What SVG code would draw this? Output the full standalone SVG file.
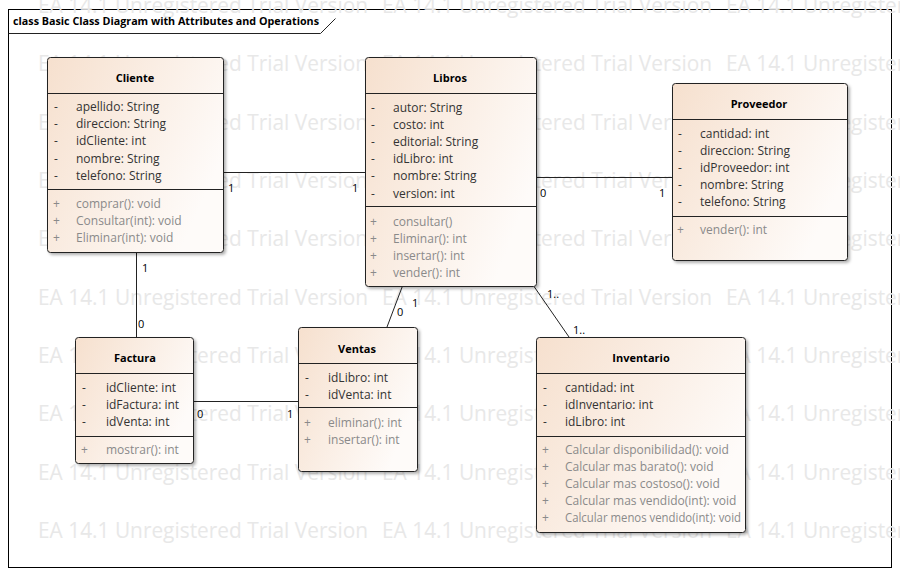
<svg xmlns="http://www.w3.org/2000/svg" width="900" height="575" viewBox="0 0 900 575">
<defs>
<linearGradient id="fill" x1="0" y1="0" x2="1" y2="0.5">
<stop offset="0" stop-color="#f6e0ce"/>
<stop offset="1" stop-color="#fefbf9"/>
</linearGradient>
<filter id="sh" x="-10%" y="-10%" width="120%" height="120%">
<feDropShadow dx="2" dy="2" stdDeviation="1.5" flood-color="#000" flood-opacity="0.3"/>
</filter>
<style>
.box{fill:url(#fill);stroke:#222;stroke-width:1;filter:url(#sh)}
.div{stroke:#222;stroke-width:1}
.nm{font-family:"Open Sans","Noto Sans",sans-serif;font-size:11px;font-weight:bold;fill:#000;text-anchor:middle}
.at{font-family:"Open Sans","Noto Sans",sans-serif;font-size:12px;fill:#333}
.op{font-family:"Open Sans","Noto Sans",sans-serif;font-size:12px;fill:#8a8a8a}
.ml{font-family:"Open Sans","Noto Sans",sans-serif;font-size:11px;fill:#000}
.wm{font-family:"Open Sans","Noto Sans",sans-serif;font-size:22px;fill:#e8e8e8}
.ln{stroke:#222;stroke-width:1;fill:none}
.ttl{font-family:"Open Sans","Noto Sans",sans-serif;font-size:11px;font-weight:bold;fill:#000}
</style>
</defs>
<rect x="0" y="0" width="900" height="575" fill="#fff"/>
<rect x="8.5" y="9.5" width="883" height="558" fill="#fff" stroke="#000" stroke-width="1"/>
<g id="watermark">
<text class="wm" x="38" y="13" textLength="330" lengthAdjust="spacingAndGlyphs">EA 14.1 Unregistered Trial Version</text>
<text class="wm" x="382" y="13" textLength="330" lengthAdjust="spacingAndGlyphs">EA 14.1 Unregistered Trial Version</text>
<text class="wm" x="726" y="13" textLength="330" lengthAdjust="spacingAndGlyphs">EA 14.1 Unregistered Trial Version</text>
<text class="wm" x="38" y="71" textLength="330" lengthAdjust="spacingAndGlyphs">EA 14.1 Unregistered Trial Version</text>
<text class="wm" x="382" y="71" textLength="330" lengthAdjust="spacingAndGlyphs">EA 14.1 Unregistered Trial Version</text>
<text class="wm" x="726" y="71" textLength="330" lengthAdjust="spacingAndGlyphs">EA 14.1 Unregistered Trial Version</text>
<text class="wm" x="38" y="130" textLength="330" lengthAdjust="spacingAndGlyphs">EA 14.1 Unregistered Trial Version</text>
<text class="wm" x="382" y="130" textLength="330" lengthAdjust="spacingAndGlyphs">EA 14.1 Unregistered Trial Version</text>
<text class="wm" x="726" y="130" textLength="330" lengthAdjust="spacingAndGlyphs">EA 14.1 Unregistered Trial Version</text>
<text class="wm" x="38" y="188" textLength="330" lengthAdjust="spacingAndGlyphs">EA 14.1 Unregistered Trial Version</text>
<text class="wm" x="382" y="188" textLength="330" lengthAdjust="spacingAndGlyphs">EA 14.1 Unregistered Trial Version</text>
<text class="wm" x="726" y="188" textLength="330" lengthAdjust="spacingAndGlyphs">EA 14.1 Unregistered Trial Version</text>
<text class="wm" x="38" y="246" textLength="330" lengthAdjust="spacingAndGlyphs">EA 14.1 Unregistered Trial Version</text>
<text class="wm" x="382" y="246" textLength="330" lengthAdjust="spacingAndGlyphs">EA 14.1 Unregistered Trial Version</text>
<text class="wm" x="726" y="246" textLength="330" lengthAdjust="spacingAndGlyphs">EA 14.1 Unregistered Trial Version</text>
<text class="wm" x="38" y="305" textLength="330" lengthAdjust="spacingAndGlyphs">EA 14.1 Unregistered Trial Version</text>
<text class="wm" x="382" y="305" textLength="330" lengthAdjust="spacingAndGlyphs">EA 14.1 Unregistered Trial Version</text>
<text class="wm" x="726" y="305" textLength="330" lengthAdjust="spacingAndGlyphs">EA 14.1 Unregistered Trial Version</text>
<text class="wm" x="38" y="363" textLength="330" lengthAdjust="spacingAndGlyphs">EA 14.1 Unregistered Trial Version</text>
<text class="wm" x="382" y="363" textLength="330" lengthAdjust="spacingAndGlyphs">EA 14.1 Unregistered Trial Version</text>
<text class="wm" x="726" y="363" textLength="330" lengthAdjust="spacingAndGlyphs">EA 14.1 Unregistered Trial Version</text>
<text class="wm" x="38" y="421" textLength="330" lengthAdjust="spacingAndGlyphs">EA 14.1 Unregistered Trial Version</text>
<text class="wm" x="382" y="421" textLength="330" lengthAdjust="spacingAndGlyphs">EA 14.1 Unregistered Trial Version</text>
<text class="wm" x="726" y="421" textLength="330" lengthAdjust="spacingAndGlyphs">EA 14.1 Unregistered Trial Version</text>
<text class="wm" x="38" y="480" textLength="330" lengthAdjust="spacingAndGlyphs">EA 14.1 Unregistered Trial Version</text>
<text class="wm" x="382" y="480" textLength="330" lengthAdjust="spacingAndGlyphs">EA 14.1 Unregistered Trial Version</text>
<text class="wm" x="726" y="480" textLength="330" lengthAdjust="spacingAndGlyphs">EA 14.1 Unregistered Trial Version</text>
<text class="wm" x="38" y="538" textLength="330" lengthAdjust="spacingAndGlyphs">EA 14.1 Unregistered Trial Version</text>
<text class="wm" x="382" y="538" textLength="330" lengthAdjust="spacingAndGlyphs">EA 14.1 Unregistered Trial Version</text>
<text class="wm" x="726" y="538" textLength="330" lengthAdjust="spacingAndGlyphs">EA 14.1 Unregistered Trial Version</text>
</g>
<g id="frame-title">
<path class="ln" d="M8.5 33.5 H320.5 L335.5 18.5"/>
<text class="ttl" x="13" y="25" textLength="306" lengthAdjust="spacingAndGlyphs">class Basic Class Diagram with Attributes and Operations</text>
</g>
<g id="connectors">
<line class="ln" x1="223" y1="172.5" x2="365" y2="172.5"/>
<line class="ln" x1="536" y1="177.5" x2="672" y2="177.5"/>
<line class="ln" x1="136.5" y1="252" x2="136.5" y2="337"/>
<line class="ln" x1="193" y1="401.5" x2="298" y2="401.5"/>
<line class="ln" x1="402.5" y1="286" x2="387" y2="327"/>
<line class="ln" x1="533" y1="285" x2="569" y2="337"/>
<text class="ml" x="228" y="192">1</text>
<text class="ml" x="352" y="192">1</text>
<text class="ml" x="540" y="197">0</text>
<text class="ml" x="659" y="197">1</text>
<text class="ml" x="142" y="272">1</text>
<text class="ml" x="138" y="328">0</text>
<text class="ml" x="197" y="418">0</text>
<text class="ml" x="287" y="418">1</text>
<text class="ml" x="397" y="316">0</text>
<text class="ml" x="412" y="307">1</text>
<text class="ml" x="547" y="298">1..</text>
<text class="ml" x="573" y="334">1..</text>
</g>
<g id="Cliente">
<rect class="box" x="47.5" y="57.5" width="176" height="195" rx="3"/>
<line class="div" x1="47.5" y1="93.5" x2="223.5" y2="93.5"/>
<line class="div" x1="47.5" y1="189.5" x2="223.5" y2="189.5"/>
<text class="nm" x="135" y="82">Cliente</text>
<text class="at" x="54" y="111">-</text><text class="at" x="76" y="111">apellido: String</text>
<text class="at" x="54" y="128.2">-</text><text class="at" x="76" y="128.2">direccion: String</text>
<text class="at" x="54" y="145.4">-</text><text class="at" x="76" y="145.4">idCliente: int</text>
<text class="at" x="54" y="162.6">-</text><text class="at" x="76" y="162.6">nombre: String</text>
<text class="at" x="54" y="179.8">-</text><text class="at" x="76" y="179.8">telefono: String</text>
<text class="op" x="53" y="208">+</text><text class="op" x="76" y="208">comprar(): void</text>
<text class="op" x="53" y="225">+</text><text class="op" x="76" y="225">Consultar(int): void</text>
<text class="op" x="53" y="242">+</text><text class="op" x="76" y="242">Eliminar(int): void</text>
</g>
<g id="Libros">
<rect class="box" x="365.5" y="57.5" width="171" height="229" rx="3"/>
<line class="div" x1="365.5" y1="93.5" x2="536.5" y2="93.5"/>
<line class="div" x1="365.5" y1="206.5" x2="536.5" y2="206.5"/>
<text class="nm" x="450" y="82">Libros</text>
<text class="at" x="371" y="111.5">-</text><text class="at" x="393" y="111.5">autor: String</text>
<text class="at" x="371" y="128.7">-</text><text class="at" x="393" y="128.7">costo: int</text>
<text class="at" x="371" y="145.9">-</text><text class="at" x="393" y="145.9">editorial: String</text>
<text class="at" x="371" y="163.1">-</text><text class="at" x="393" y="163.1">idLibro: int</text>
<text class="at" x="371" y="180.3">-</text><text class="at" x="393" y="180.3">nombre: String</text>
<text class="at" x="371" y="197.5">-</text><text class="at" x="393" y="197.5">version: int</text>
<text class="op" x="370" y="225.5">+</text><text class="op" x="393" y="225.5">consultar()</text>
<text class="op" x="370" y="242.7">+</text><text class="op" x="393" y="242.7">Eliminar(): int</text>
<text class="op" x="370" y="259.9">+</text><text class="op" x="393" y="259.9">insertar(): int</text>
<text class="op" x="370" y="277.1">+</text><text class="op" x="393" y="277.1">vender(): int</text>
</g>
<g id="Proveedor">
<rect class="box" x="672.5" y="83.5" width="175" height="177" rx="3"/>
<line class="div" x1="672.5" y1="119.5" x2="847.5" y2="119.5"/>
<line class="div" x1="672.5" y1="216.5" x2="847.5" y2="216.5"/>
<text class="nm" x="759" y="108">Proveedor</text>
<text class="at" x="678" y="137.5">-</text><text class="at" x="700" y="137.5">cantidad: int</text>
<text class="at" x="678" y="154.7">-</text><text class="at" x="700" y="154.7">direccion: String</text>
<text class="at" x="678" y="171.9">-</text><text class="at" x="700" y="171.9">idProveedor: int</text>
<text class="at" x="678" y="189.1">-</text><text class="at" x="700" y="189.1">nombre: String</text>
<text class="at" x="678" y="206.3">-</text><text class="at" x="700" y="206.3">telefono: String</text>
<text class="op" x="677" y="234">+</text><text class="op" x="700" y="234">vender(): int</text>
</g>
<g id="Factura">
<rect class="box" x="75.5" y="337.5" width="118" height="126" rx="3"/>
<line class="div" x1="75.5" y1="373.5" x2="193.5" y2="373.5"/>
<line class="div" x1="75.5" y1="436.5" x2="193.5" y2="436.5"/>
<text class="nm" x="135" y="362">Factura</text>
<text class="at" x="82" y="391.5">-</text><text class="at" x="106" y="391.5">idCliente: int</text>
<text class="at" x="82" y="408.7">-</text><text class="at" x="106" y="408.7">idFactura: int</text>
<text class="at" x="82" y="425.9">-</text><text class="at" x="106" y="425.9">idVenta: int</text>
<text class="op" x="81" y="454">+</text><text class="op" x="106" y="454">mostrar(): int</text>
</g>
<g id="Ventas">
<rect class="box" x="298.5" y="327.5" width="119" height="144" rx="3"/>
<line class="div" x1="298.5" y1="363.5" x2="417.5" y2="363.5"/>
<line class="div" x1="298.5" y1="407.5" x2="417.5" y2="407.5"/>
<text class="nm" x="357" y="353">Ventas</text>
<text class="at" x="305" y="381.5">-</text><text class="at" x="328" y="381.5">idLibro: int</text>
<text class="at" x="305" y="398.5">-</text><text class="at" x="328" y="398.5">idVenta: int</text>
<text class="op" x="304" y="426.5">+</text><text class="op" x="328" y="426.5">eliminar(): int</text>
<text class="op" x="304" y="443.5">+</text><text class="op" x="328" y="443.5">insertar(): int</text>
</g>
<g id="Inventario">
<rect class="box" x="536.5" y="337.5" width="209" height="195" rx="3"/>
<line class="div" x1="536.5" y1="373.5" x2="745.5" y2="373.5"/>
<line class="div" x1="536.5" y1="436.5" x2="745.5" y2="436.5"/>
<text class="nm" x="641" y="362">Inventario</text>
<text class="at" x="543" y="391.5">-</text><text class="at" x="565" y="391.5">cantidad: int</text>
<text class="at" x="543" y="408.7">-</text><text class="at" x="565" y="408.7">idInventario: int</text>
<text class="at" x="543" y="425.9">-</text><text class="at" x="565" y="425.9">idLibro: int</text>
<text class="op" x="542" y="454">+</text><text class="op" x="565" y="454">Calcular disponibilidad(): void</text>
<text class="op" x="542" y="471">+</text><text class="op" x="565" y="471">Calcular mas barato(): void</text>
<text class="op" x="542" y="488">+</text><text class="op" x="565" y="488">Calcular mas costoso(): void</text>
<text class="op" x="542" y="505">+</text><text class="op" x="565" y="505">Calcular mas vendido(int): void</text>
<text class="op" x="542" y="522">+</text><text class="op" x="565" y="522" textLength="176" lengthAdjust="spacingAndGlyphs">Calcular menos vendido(int): void</text>
</g>
</svg>
